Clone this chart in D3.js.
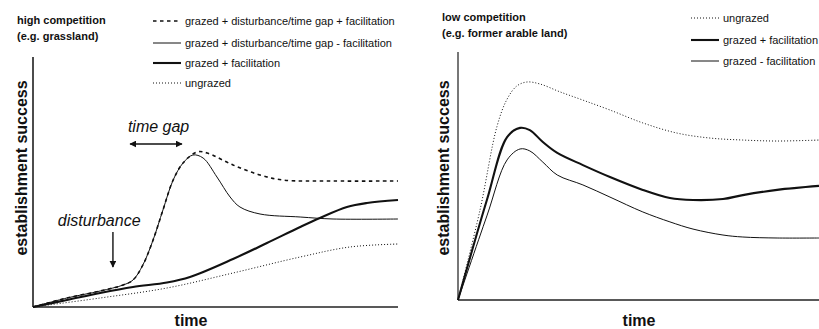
<!DOCTYPE html>
<html>
  <head>
    <meta charset="utf-8">
    <title>Establishment success over time</title>
    <script src="https://cdn.jsdelivr.net/npm/d3@7"></script>
    <style>
      body { margin: 0; background: #fff; }
      svg { display: block; font-family: "Liberation Sans", Arial, sans-serif; }
      .title { font-size: 11px; font-weight: bold; fill: #111; }
      .legend { font-size: 11px; fill: #111; }
      .axisLabel { font-size: 16px; font-weight: bold; fill: #111; }
      .note { font-size: 16px; font-style: italic; fill: #111; }
    </style>
  </head>

  <body>
    <svg id="chart" width="819" height="329"></svg>

    <script>
      // data: conceptual curves, time and success on a 0-100 scale
      // high competition panel
      hiTime = [0, 9.3, 18.4, 24.7, 27.4, 30.1, 32.9, 35.6, 38.4, 41.1];
      hiDistRise = [0, 3.6, 6.4, 8.8, 10.8, 16.8, 26.8, 38.8, 50.8, 57.6];
      hiDistFacTime = [44.9, 47.7, 54.8, 62.2, 68.5, 82.2, 100];
      hiDistFac = [62, 61.6, 56.8, 52.8, 50.8, 50.4, 50.4];
      hiDistNoFacTime = [43.8, 46.6, 50.4, 54, 56.7, 62.2, 73.2, 82.2, 100];
      hiDistNoFac = [60.8, 59.6, 52, 44, 40, 37.2, 36, 35.2, 35.2];
      hiFacTime = [0, 9.3, 18.4, 27.4, 36.7, 43, 54.8, 64.1, 73.2, 78.6, 86, 91.5, 100];
      hiFac = [0, 2.8, 5.6, 8, 9.8, 12, 19.2, 25.6, 32, 35.6, 40, 41.6, 42.8];
      hiUngrazedTime = [0, 18.4, 36.7, 54.8, 73.2, 86.8, 100];
      hiUngrazed = [0, 3.6, 7.6, 13.6, 20, 24, 25.2];

      // low competition panel
      loTime = [0, 8, 13.6, 17.2, 19.9, 23.5, 27.5, 34.6, 42.1, 51.2, 58.7, 65.1, 73.4, 78.9, 88.4, 100];
      loFac = [0, 40.3, 65.7, 69.4, 68.5, 63.7, 59.3, 54.4, 49.6, 44.4, 41.1, 40.3, 40.7, 42.3, 44.4, 46];
      loNoFac = [0, 33.9, 56.5, 60.9, 60.1, 55.6, 50.4, 46.4, 41.5, 35.5, 31.5, 28.6, 26.2, 25.4, 25, 25];
      loUngrazedTime = [0, 6.1, 10.8, 13.6, 16.3, 19.1, 22.7, 28.3, 34.6, 42.1, 51.2, 60.7, 69.8, 78.9, 88.4, 100];
      loUngrazed = [0, 36.3, 70, 81, 86.3, 87.9, 87.1, 83.9, 80.6, 76.6, 71.4, 67.3, 65.3, 64.5, 64.1, 64.5];

      // text
      hiTitle = ["high competition", "(e.g. grassland)"];
      loTitle = ["low competition", "(e.g. former arable land)"];
      hiLegend = ["grazed + disturbance/time gap + facilitation", "grazed + disturbance/time gap - facilitation", "grazed + facilitation", "ungrazed"];
      loLegend = ["ungrazed", "grazed + facilitation", "grazed - facilitation"];

      // line styles
      styles = {
        dashed: { width: 1.6, dash: "3.5,3.5" },
        thin: { width: 1, dash: null },
        thick: { width: 2.1, dash: null },
        dotted: { width: 1, dash: "1,2" }
      };

      function zip(xs, ys) {
        return xs.map(function(x, i) { return [x, ys[i]]; });
      }

      chart = d3.select("#chart");

      defs = chart.append("defs");
      defs.append("marker")
        .attr("id", "head")
        .attr("viewBox", "0 0 10 10")
        .attr("refX", 9).attr("refY", 5)
        .attr("markerWidth", 7).attr("markerHeight", 7)
        .attr("markerUnits", "userSpaceOnUse")
        .attr("orient", "auto-start-reverse")
        .append("path")
          .attr("d", "M0,0L10,5L0,10z")
          .attr("fill", "#111");

      function drawPanel(p) {
        let g = chart.append("g");
        let x = d3.scaleLinear().domain([0, 100]).range([p.left, p.right]);
        let y = d3.scaleLinear().domain([0, 100]).range([p.bottom, p.top]);
        let line = d3.line()
          .x(function(d) { return x(d[0]); })
          .y(function(d) { return y(d[1]); })
          .curve(d3.curveCatmullRom.alpha(0.5));

        // axes
        g.append("line")
          .attr("x1", p.left).attr("x2", p.left)
          .attr("y1", p.axisTop).attr("y2", p.bottom)
          .attr("stroke", p.yAxisColour).attr("stroke-width", p.yAxisWidth);
        g.append("line")
          .attr("x1", p.left).attr("x2", p.axisRight)
          .attr("y1", p.bottom).attr("y2", p.bottom)
          .attr("stroke", "#222").attr("stroke-width", 1.6);

        // curves
        p.series.forEach(function(s) {
          let st = styles[s.style];
          g.append("path")
            .attr("d", line(s.data))
            .attr("fill", "none")
            .attr("stroke", "#111")
            .attr("stroke-width", st.width)
            .attr("stroke-dasharray", st.dash);
        });

        // titles
        g.append("text").attr("class", "title")
          .attr("x", p.titleX).attr("y", p.titleY)
          .text(p.title[0]);
        g.append("text").attr("class", "title")
          .attr("x", p.titleX).attr("y", p.titleY + 16)
          .text(p.title[1]);

        // legend
        p.legend.forEach(function(label, i) {
          let ly = p.legendY[i];
          let st = styles[p.legendStyles[i]];
          g.append("line")
            .attr("x1", p.legendX).attr("x2", p.legendX + 28)
            .attr("y1", ly).attr("y2", ly)
            .attr("stroke", "#111")
            .attr("stroke-width", st.width)
            .attr("stroke-dasharray", st.dash);
          g.append("text").attr("class", "legend")
            .attr("x", p.legendX + 32).attr("y", ly + 4)
            .text(label);
        });

        // axis labels
        g.append("text").attr("class", "axisLabel")
          .attr("transform", "translate(" + p.yLabelX + "," + p.yLabelY + ") rotate(-90)")
          .attr("text-anchor", "middle")
          .text("establishment success");
        g.append("text").attr("class", "axisLabel")
          .attr("x", p.xLabelX).attr("y", 326)
          .attr("text-anchor", "middle")
          .text("time");

        return { g: g, x: x, y: y };
      }

      hi = drawPanel({
        left: 33, right: 398, axisRight: 398, top: 57, axisTop: 57, bottom: 307,
        yAxisColour: "#111", yAxisWidth: 1.5,
        series: [
          { data: zip(hiTime, hiDistRise).concat(zip(hiDistFacTime, hiDistFac)), style: "dashed" },
          { data: zip(hiTime, hiDistRise).concat(zip(hiDistNoFacTime, hiDistNoFac)), style: "thin" },
          { data: zip(hiFacTime, hiFac), style: "thick" },
          { data: zip(hiUngrazedTime, hiUngrazed), style: "dotted" }
        ],
        title: hiTitle, titleX: 17, titleY: 24,
        legend: hiLegend, legendStyles: ["dashed", "thin", "thick", "dotted"],
        legendX: 153, legendY: [21, 43, 63, 83],
        yLabelX: 27, yLabelY: 168, xLabelX: 191
      });

      lo = drawPanel({
        left: 458, right: 819, axisRight: 819, top: 52, axisTop: 52, bottom: 300,
        yAxisColour: "#777", yAxisWidth: 2,
        series: [
          { data: zip(loUngrazedTime, loUngrazed), style: "dotted" },
          { data: zip(loTime, loFac), style: "thick" },
          { data: zip(loTime, loNoFac), style: "thin" }
        ],
        title: loTitle, titleX: 442, titleY: 21,
        legend: loLegend, legendStyles: ["dotted", "thick", "thin"],
        legendX: 691, legendY: [18, 40, 61],
        yLabelX: 449, yLabelY: 168, xLabelX: 639
      });

      // annotations on the high competition panel
      hi.g.append("text").attr("class", "note")
        .attr("x", hi.x(26)).attr("y", 132)
        .text("time gap");
      hi.g.append("line")
        .attr("x1", hi.x(26.6)).attr("x2", hi.x(40.8))
        .attr("y1", 144).attr("y2", 144)
        .attr("stroke", "#111").attr("stroke-width", 1.6)
        .attr("marker-start", "url(#head)")
        .attr("marker-end", "url(#head)");
      hi.g.append("text").attr("class", "note")
        .attr("x", hi.x(6.8)).attr("y", 226)
        .text("disturbance");
      hi.g.append("line")
        .attr("x1", hi.x(21.9)).attr("x2", hi.x(21.9))
        .attr("y1", 232).attr("y2", 267)
        .attr("stroke", "#111").attr("stroke-width", 1.4)
        .attr("marker-end", "url(#head)");
    </script>
  </body>
</html>
